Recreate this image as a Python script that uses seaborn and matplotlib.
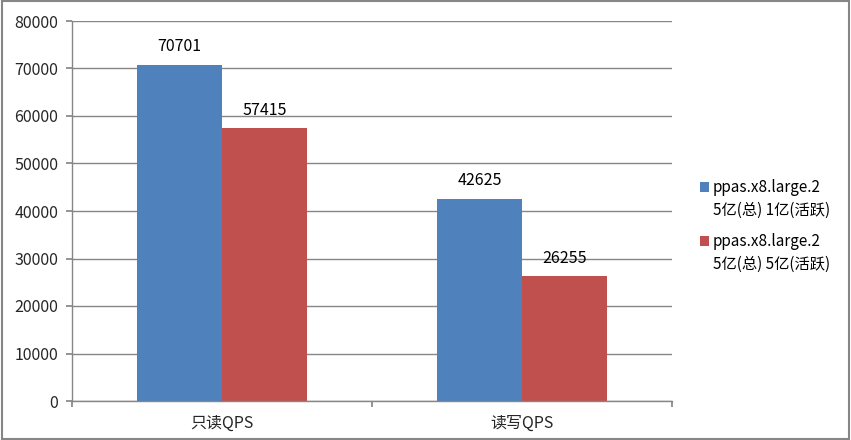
import pandas as pd
import matplotlib.pyplot as plt
import seaborn as sns
from matplotlib.patches import Rectangle

sns.set_theme(style='white')
plt.rcParams['font.family'] = ['Noto Sans CJK SC', 'DejaVu Sans']

categories = ['只读QPS', '读写QPS']
series_names = ['ppas.x8.large.2\n5亿(总) 1亿(活跃)', 'ppas.x8.large.2\n5亿(总) 5亿(活跃)']
active_1e8 = [70701, 42625]
active_5e8 = [57415, 26255]
colors = ['#4F81BD', '#C0504D']

df = pd.DataFrame({
    'category': categories * 2,
    'series': [series_names[0]] * 2 + [series_names[1]] * 2,
    'qps': active_1e8 + active_5e8,
})

fig = plt.figure(figsize=(8.51, 4.40), dpi=100)
ax = fig.add_axes([72 / 851, 39 / 440, 600 / 851, 380 / 440])

sns.barplot(data=df, x='category', y='qps', hue='series', palette=colors,
            width=0.567, saturation=1, ax=ax, errorbar=None, linewidth=0,
            legend=False)

for container in ax.containers:
    ax.bar_label(container, fmt='%d', padding=7, fontsize=11.5, color='black')

ax.set_xlim(-0.5, 1.5)
ax.set_ylim(0, 80000)
ax.set_yticks(range(0, 80001, 10000))
ax.yaxis.grid(True, color='#868686', linewidth=1)
ax.set_axisbelow(True)
ax.set_xlabel('')
ax.set_ylabel('')

for side in ['top', 'right']:
    ax.spines[side].set_visible(False)
for side in ['left', 'bottom']:
    ax.spines[side].set_color('#868686')
    ax.spines[side].set_linewidth(1)

ax.set_xticks([-0.5, 0.5, 1.5], minor=False)
ax.set_xticklabels(['', '', ''])
ax.set_xticks([0, 1], minor=True)
ax.set_xticklabels(categories, minor=True)
ax.tick_params(axis='x', which='major', length=4.5, color='#868686', direction='out', bottom=True)
ax.tick_params(axis='x', which='minor', length=0, labelsize=11.5, pad=10)
ax.tick_params(axis='y', length=4, color='#868686', direction='out', left=True, labelsize=11.5, pad=6)

# legend: square beside the first line of each two-line label
legend_top = [187, 241]
for name, color, y in zip(series_names, colors, legend_top):
    fig.patches.append(Rectangle((700 / 851, 1 - (y + 5) / 440), 9 / 851, 10 / 440,
                                 transform=fig.transFigure, facecolor=color, edgecolor='none'))
    fig.text(713 / 851, 1 - (y - 8) / 440, name, fontsize=11, va='top', ha='left',
             linespacing=1.45, color='black')

fig.patches.append(Rectangle((0.002, 0.002), 0.996, 0.996, transform=fig.transFigure,
                             fill=False, edgecolor='#868686', linewidth=1.5))

plt.savefig('out.png', dpi=100)
plt.close()
